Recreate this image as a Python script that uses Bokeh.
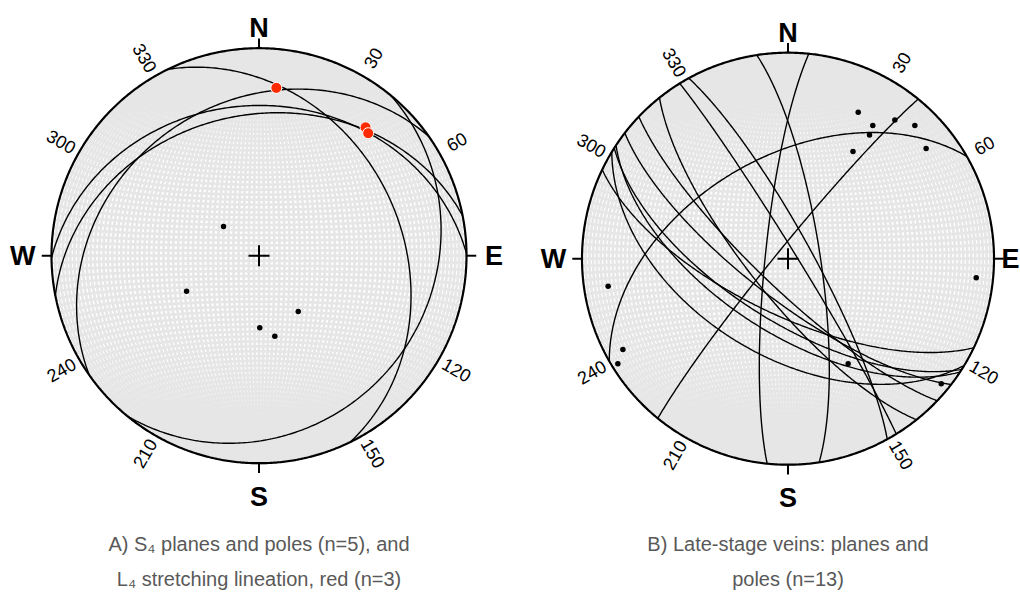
import numpy as np
from bokeh.plotting import figure
from bokeh.layouts import row
from bokeh.models import Range1d
from bokeh.core.properties import value
from bokeh.embed import file_html
from bokeh.resources import INLINE

# ---------------- data ----------------
# Net A: S4 planes (dip direction, dip), their poles are plotted too
a_dipdir = [129.4, 63.9, 324.9, 359.4, 348.9]
a_dip = [18.0, 31.9, 26.9, 28.4, 32.5]
# L4 stretching lineation (trend, plunge)
a_lin_trend = [5.9, 39.7, 41.7]
a_lin_plunge = [19.8, 20.7, 22.0]

# Net B: late-stage veins (dip direction, dip)
b_dipdir = [205.6, 212.5, 217.6, 223.6, 213.4, 211.2, 231.4, 275.8, 81.3, 61.2, 58.3, 330.2, 309.2]
b_dip = [67.8, 65.6, 73.9, 78.3, 61.1, 51.0, 74.7, 81.0, 77.3, 80.6, 86.7, 49.1, 85.5]

cardinal_labels = ["N", "E", "S", "W"]
cardinal_az = [0, 90, 180, 270]
degree_az = [30, 60, 120, 150, 210, 240, 300, 330]

caption_a = ["A) S\u2084 planes and poles (n=5), and", "L\u2084 stretching lineation, red (n=3)"]
caption_b = ["B) Late-stage veins: planes and", "poles (n=13)"]

# ---------------- projection helpers (lower hemisphere, equal area) ----------------
def project(trend, plunge):
    t = np.radians(np.asarray(trend, dtype=float))
    p = np.radians(np.asarray(plunge, dtype=float))
    r = np.sqrt(2.0) * np.sin((np.pi / 2 - p) / 2)
    return r * np.sin(t), r * np.cos(t)


def plane_curve(dd, dip, n=241):
    d = np.radians(dd)
    s = d - np.pi / 2
    dp = np.radians(dip)
    a = np.linspace(0, np.pi, n)
    sv = np.array([np.sin(s), np.cos(s), 0.0])
    dv = np.array([np.sin(d) * np.cos(dp), np.cos(d) * np.cos(dp), np.sin(dp)])
    v = np.outer(np.cos(a), sv) + np.outer(np.sin(a), dv)
    plunge = np.degrees(np.arcsin(np.clip(v[:, 2], -1, 1)))
    trend = np.degrees(np.arctan2(v[:, 0], v[:, 1]))
    return project(trend, plunge)


def schmidt_xy(lam, phi):
    lam = np.radians(lam)
    phi = np.radians(phi)
    k = np.sqrt(2.0 / (1.0 + np.cos(phi) * np.cos(lam)))
    return k * np.cos(phi) * np.sin(lam) / np.sqrt(2), k * np.sin(phi) / np.sqrt(2)


def make_net(width, height, cx_px, cy_px, R, dipdirs, dips, lin_t=None, lin_p=None,
             captions=(), label_r=None):
    x0 = -cx_px / R
    x1 = (width - cx_px) / R
    y1 = cy_px / R
    y0 = -(height - cy_px) / R
    p = figure(width=width, height=height, x_range=Range1d(x0, x1), y_range=Range1d(y0, y1),
               output_backend="svg", toolbar_location=None, min_border=0,
               x_axis_type=None, y_axis_type=None)
    p.grid.visible = False
    p.outline_line_color = None
    p.background_fill_color = "white"
    p.border_fill_color = "white"

    # net grid (gray lines on white)
    xs, ys = [], []
    phis = np.linspace(-90, 90, 361)
    for lam in np.arange(-88, 89, 2):
        x, y = schmidt_xy(lam, phis)
        xs.append(x); ys.append(y)
    lams = np.linspace(-90, 90, 361)
    for phi in np.arange(-88, 89, 2):
        x, y = schmidt_xy(lams, phi)
        xs.append(x); ys.append(y)
    p.multi_line(xs, ys, line_color="#E6E6E6", line_width=2.7)

    # primitive circle
    th = np.linspace(0, 2 * np.pi, 721)
    p.line(np.cos(th), np.sin(th), line_color="black", line_width=2.2)

    # cardinal ticks
    for az in cardinal_az:
        a = np.radians(az)
        p.line([np.sin(a), 1.047 * np.sin(a)], [np.cos(a), 1.047 * np.cos(a)],
               line_color="black", line_width=2)

    # center cross
    p.scatter([0], [0], marker="cross", size=21, line_color="black", line_width=2)

    # planes
    cx, cy = [], []
    for dd, dp in zip(dipdirs, dips):
        x, y = plane_curve(dd, dp)
        cx.append(x); cy.append(y)
    p.multi_line(cx, cy, line_color="black", line_width=1.4)

    # poles
    px, py = project(np.array(dipdirs) + 180.0, 90.0 - np.array(dips))
    p.scatter(px, py, size=5.5, fill_color="black", line_color=None)

    # lineations
    if lin_t is not None:
        lx, ly = project(lin_t, lin_p)
        p.scatter(lx, ly, size=11, fill_color="#FF2A00", line_color="white", line_width=1)

    # cardinal labels
    for lab, az in zip(cardinal_labels, cardinal_az):
        a = np.radians(az)
        rr = label_r[lab]
        p.text([rr * np.sin(a)], [rr * np.cos(a)], text=[lab], text_align="center",
               text_baseline="middle", text_font=value("Liberation Sans"),
               text_font_style="bold", text_font_size="27px", text_color="black")

    # degree labels
    for az in degree_az:
        a = np.radians(az)
        ang = (90 - az) if az < 180 else (270 - az)
        p.text([1.10 * np.sin(a)], [1.10 * np.cos(a)], text=[str(az)], angle=np.radians(ang),
               text_align="center", text_baseline="middle", text_font=value("Liberation Sans"),
               text_font_size="18px", text_color="black")

    # captions
    for i, line in enumerate(captions):
        ypx = 543 + 35 * i
        p.text([0], [(cy_px - ypx) / R], text=[line], text_align="center", text_baseline="middle",
               text_font=value("Liberation Sans"), text_font_size="20px", text_color="#595959")
    return p


lab_a = {"N": 1.097, "S": 1.163, "E": 1.133, "W": 1.138}
lab_b = {"N": 1.097, "S": 1.163, "E": 1.08, "W": 1.138}
pa = make_net(520, 601, 258.5, 255.2, 207.5, a_dipdir, a_dip, a_lin_trend, a_lin_plunge, caption_a, lab_a)
pb = make_net(500, 601, 267.5, 258.2, 206.0, b_dipdir, b_dip, None, None, caption_b, lab_b)

layout = row(pa, pb, spacing=0)
open("out.html", "w").write(file_html(layout, INLINE))
